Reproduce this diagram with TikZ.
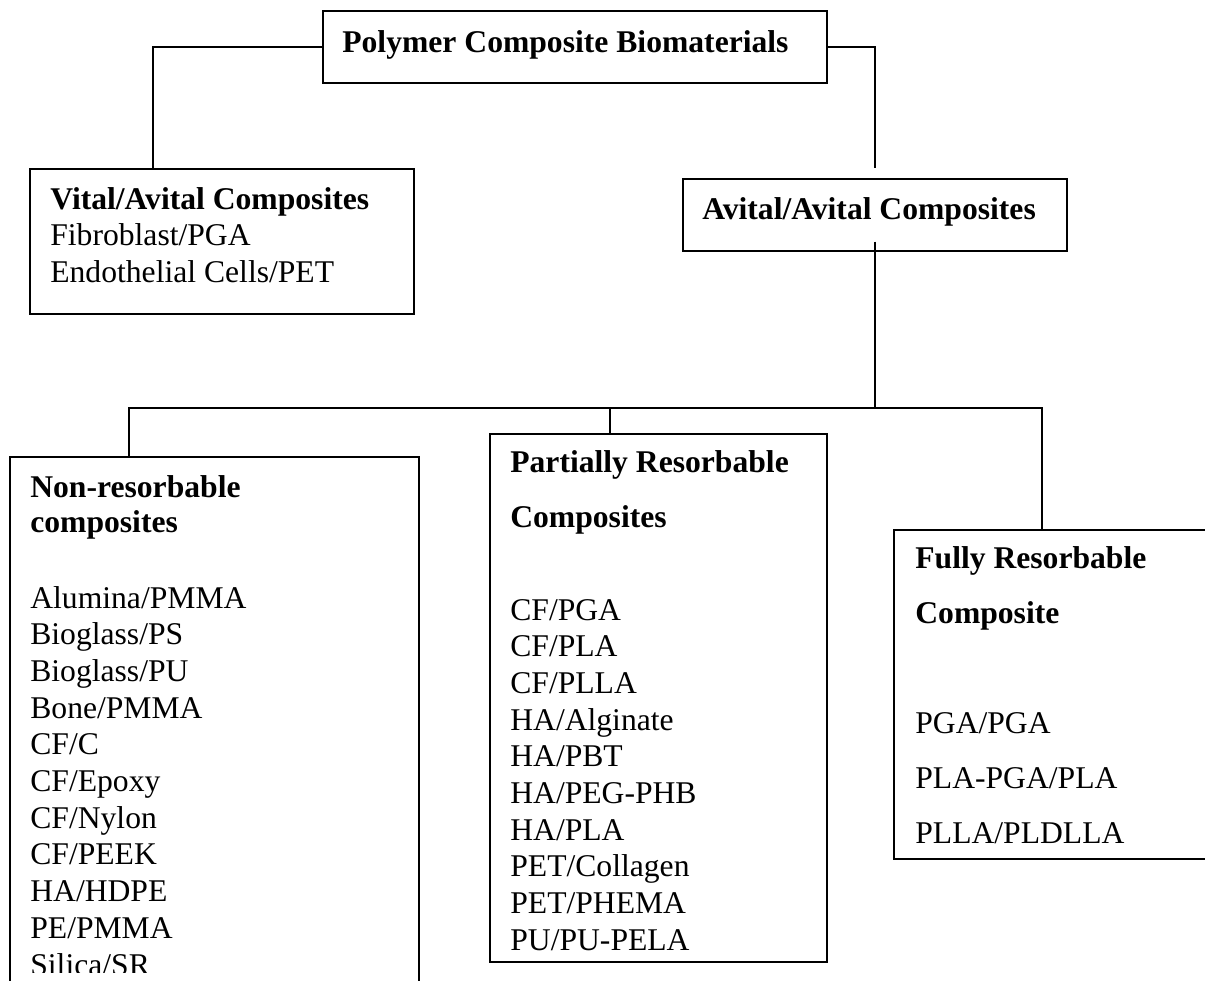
\documentclass[tikz,border=0pt]{standalone}
\usepackage{fontspec}
\setmainfont{Liberation Serif}
\usetikzlibrary{calc}

\tikzset{
  box/.style={draw, line width=1pt, anchor=north west, inner sep=0pt},
  headtext/.style={anchor=base west, inner sep=0pt, font=\fontsize{18}{22}\selectfont\bfseries},
  itemtext/.style={anchor=base west, inner sep=0pt, font=\fontsize{18}{22}\selectfont},
  link/.style={line width=1pt}
}

\begin{document}
\begin{tikzpicture}[x=0.02cm, y=-0.02cm]
    \clip (0,0) rectangle (1205,981);
    % Boxes
    \node[box, minimum width=10.08cm, minimum height=1.44cm] (top) at (322,10) {};
    \node[box, minimum width=7.68cm, minimum height=2.9cm] (vital) at (29,168) {};
    \node[box, minimum width=7.68cm, minimum height=1.44cm] (avital) at (682,178) {};
    \node[box, minimum width=8.18cm, minimum height=10.88cm] (nonres) at (9,456) {};
    \node[box, minimum width=6.74cm, minimum height=10.56cm] (partial) at (489,433) {};
    \node[box, minimum width=6.6cm, minimum height=6.58cm] (fully) at (893,529) {};

    % Top level
    \node[headtext] (toptitle) at (342,52) {Polymer Composite Biomaterials};
    \node[headtext] (vitaltitle) at (50,209) {Vital/Avital Composites};
    \node[itemtext] (vital1) at (50,245) {Fibroblast/PGA};
    \node[itemtext] (vital2) at (50,282) {Endothelial Cells/PET};
    \node[headtext] (avitaltitle) at (702,219) {Avital/Avital Composites};

    % Non-resorbable (last line is cut off at the page foot)
    \node[headtext] (nonres1) at (30,497) {Non-resorbable};
    \node[headtext] (nonres2) at (30,532) {composites};
    \begin{scope}
        \clip (0,0) rectangle (1205,972);
        \foreach \t [count=\i] in {Alumina/PMMA, Bioglass/PS, Bioglass/PU, Bone/PMMA,
            CF/C, CF/Epoxy, CF/Nylon, CF/PEEK, HA/HDPE, PE/PMMA, Silica/SR}
            \node[itemtext] (nr\i) at (30,{608+36.7*(\i-1)}) {\t};
    \end{scope}

    % Partially resorbable
    \node[headtext] (partial1) at (510,472) {Partially Resorbable};
    \node[headtext] (partial2) at (510,527) {Composites};
    \foreach \t [count=\i] in {CF/PGA, CF/PLA, CF/PLLA, HA/Alginate, HA/PBT,
        HA/PEG-PHB, HA/PLA, PET/Collagen, PET/PHEMA, PU/PU-PELA}
        \node[itemtext] (pr\i) at (510,{620+36.7*(\i-1)}) {\t};

    % Fully resorbable
    \node[headtext] (fully1) at (915,568) {Fully Resorbable};
    \node[headtext] (fully2) at (915,623) {Composite};
    \foreach \t [count=\i] in {PGA/PGA, PLA-PGA/PLA, PLLA/PLDLLA}
        \node[itemtext] (fr\i) at (915,{733+55*(\i-1)}) {\t};

    % Connectors
    \coordinate (busL) at (129,408);
    \coordinate (busM) at (610,408);
    \coordinate (busR) at (1042,408);
    \draw[link] (top.west) -| ($(vital.north west)+(124,0)$);
    \draw[link] (top.east) -| ($(avital.north)+(0,-10)$);
    \draw[link] ($(avital.south)+(0,-10)$) -- (avital.south |- busR);
    \draw[link] (nonres.north west -| busL) -- (busL) -- (busR) -- (fully.north west -| busR);
    \draw[link] (busM) -- (partial.north west -| busM);
\end{tikzpicture}
\end{document}
